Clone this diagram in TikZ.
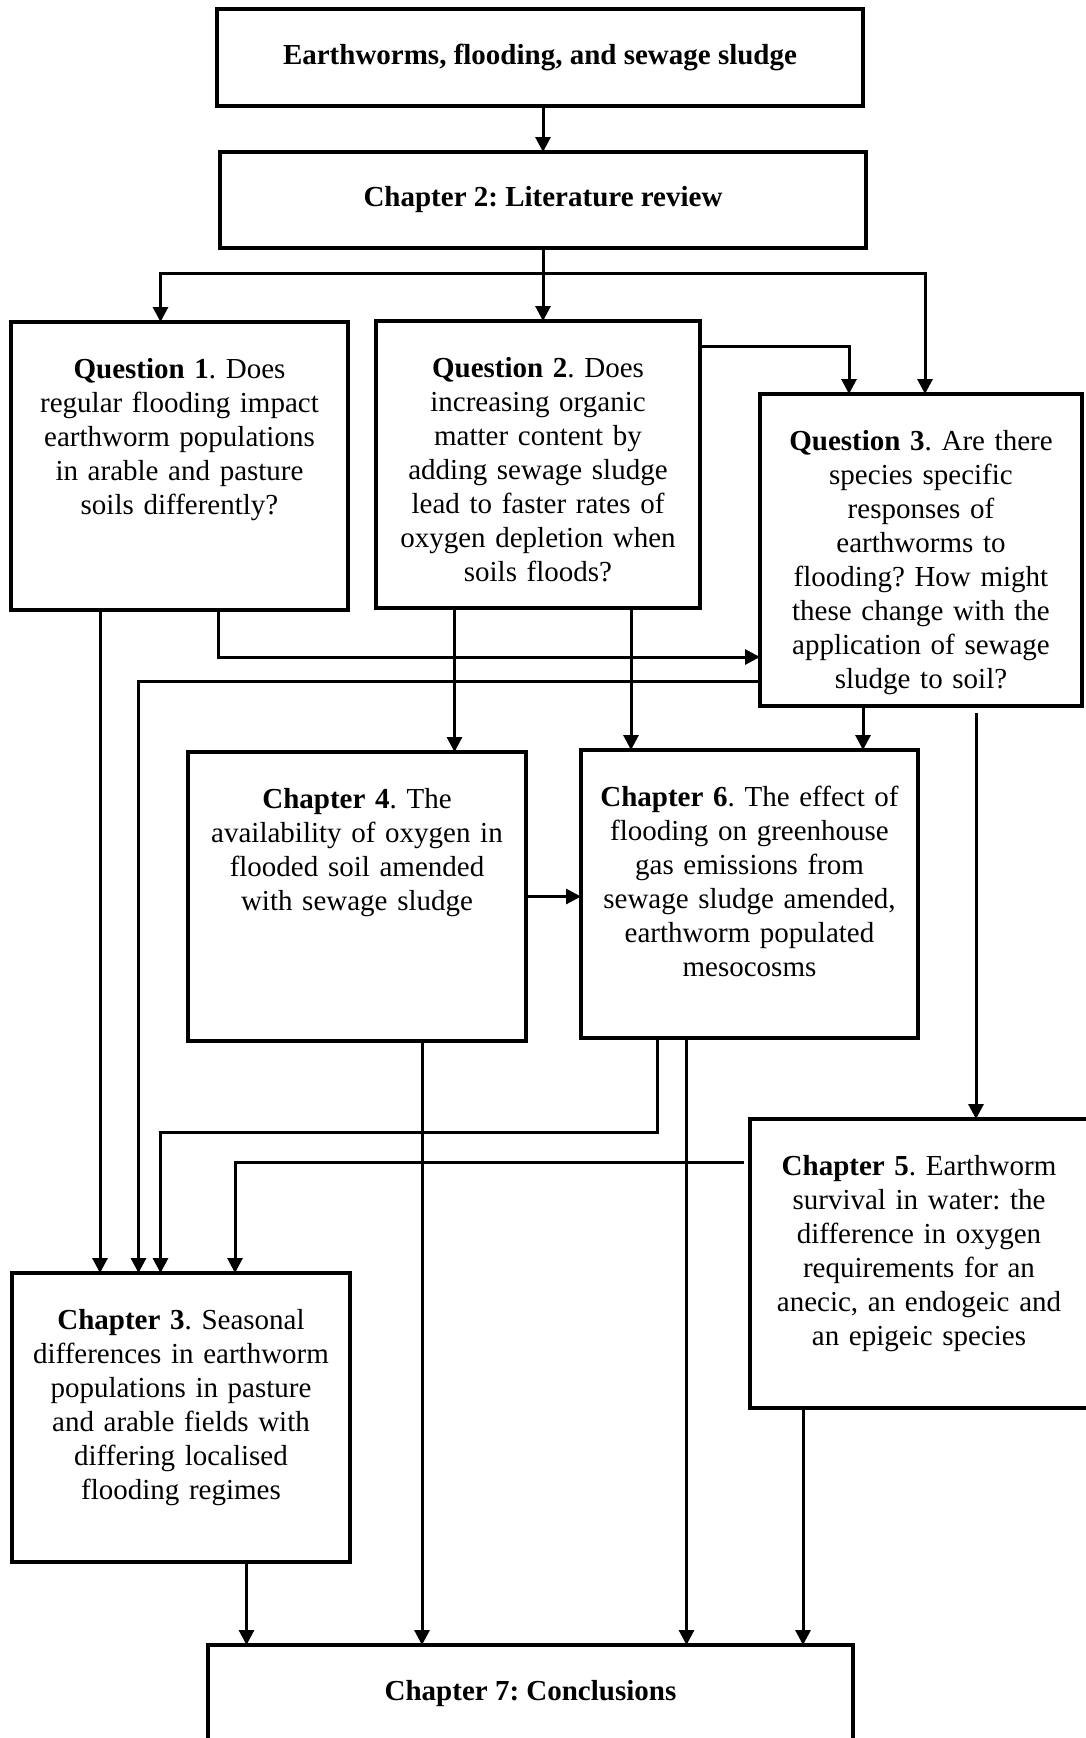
\documentclass[tikz,border=0pt]{standalone}
\usepackage{fontspec}
\setmainfont{Liberation Serif}
\usetikzlibrary{arrows.meta}

\begin{document}
\begin{tikzpicture}[x=1pt, y=1pt, font=\fontsize{29}{34}\selectfont\frenchspacing,
		chbox/.style={draw, line width=3.5pt, anchor=north west, inner sep=0pt, outer sep=0pt},
		chtext/.style={anchor=north, inner sep=0pt, align=center, text width=330pt},
		flow/.style={line width=3pt, -{Triangle[length=15pt, width=15pt]}}]
	\useasboundingbox (0,0) rectangle (1085,-1738);
	% the boxes, at their top left corners
	\node[chbox, minimum width=646pt, minimum height=97pt] (top) at (217,-9) {\textbf{Earthworms, flooding, and sewage sludge}};
	\node[chbox, minimum width=646pt, minimum height=96pt] (lit) at (220,-152) {\textbf{Chapter 2: Literature review}};
	\node[chbox, minimum width=337pt, minimum height=288pt] (q1) at (11,-322) {};
	\node[chbox, minimum width=324pt, minimum height=287pt] (q2) at (376,-321) {};
	\node[chbox, minimum width=322pt, minimum height=312pt] (q3) at (760,-394) {};
	\node[chbox, minimum width=338pt, minimum height=289pt] (ch4) at (188,-752) {};
	\node[chbox, minimum width=337pt, minimum height=288pt] (ch6) at (581,-750) {};
	\node[chbox, minimum width=338pt, minimum height=289pt] (ch5) at (750,-1119) {};
	\node[chbox, minimum width=338pt, minimum height=289pt] (ch3) at (12,-1273) {};
	\node[chbox, minimum width=645pt, minimum height=97pt] (ch7) at (208,-1645) {\textbf{Chapter 7: Conclusions}};
	% texts hang from the top edge
	\node[chtext] (q1-text) at ([yshift=-32pt]q1.north) {\strut\textbf{Question 1}. Does\\regular flooding impact\\earthworm populations\\in arable and pasture\\soils differently?};
	\node[chtext] (q2-text) at ([yshift=-32pt]q2.north) {\strut\textbf{Question 2}. Does\\increasing organic\\matter content by\\adding sewage sludge\\lead to faster rates of\\oxygen depletion when\\soils floods?};
	\node[chtext] (q3-text) at ([yshift=-32pt]q3.north) {\strut\textbf{Question 3}. Are there\\species specific\\responses of\\earthworms to\\flooding? How might\\these change with the\\application of sewage\\sludge to soil?};
	\node[chtext] (ch4-text) at ([yshift=-32pt]ch4.north) {\strut\textbf{Chapter 4}. The\\availability of oxygen in\\flooded soil amended\\with sewage sludge};
	\node[chtext] (ch6-text) at ([yshift=-32pt]ch6.north) {\strut\textbf{Chapter 6}. The effect of\\flooding on greenhouse\\gas emissions from\\sewage sludge amended,\\earthworm populated\\mesocosms};
	\node[chtext] (ch5-text) at ([yshift=-32pt]ch5.north) {\strut\textbf{Chapter 5}. Earthworm\\survival in water: the\\difference in oxygen\\requirements for an\\anecic, an endogeic and\\an epigeic species};
	\node[chtext] (ch3-text) at ([yshift=-32pt]ch3.north) {\strut\textbf{Chapter 3}. Seasonal\\differences in earthworm\\populations in pasture\\and arable fields with\\differing localised\\flooding regimes};
	% review and the three questions
	\draw[flow] (top.south -| lit.north) -- (lit.north);
	\coordinate (split) at ([yshift=-25pt]lit.south);
	\draw[flow] (lit.south) -- (lit.south |- q2.north);
	\draw[flow] (split) -| ([xshift=-19pt]q1.north);
	\draw[flow] (split) -| ([xshift=4pt]q3.north);
	\draw[flow] ([yshift=-25pt]q2.north east) -| ([xshift=-72pt]q3.north);
	% out of the questions
	\draw[flow] ([xshift=-79.5pt]q1.south) -- ([xshift=-79.5pt]q1.south |- ch3.north);
	\draw[flow] ([xshift=38.5pt]q1.south) |- ([yshift=-107pt]q3.west);
	\draw[flow] ([xshift=-83.5pt]q2.south) -- ([xshift=-83.5pt]q2.south |- ch4.north);
	\draw[flow] ([xshift=93pt]q2.south) -- ([xshift=93pt]q2.south |- ch6.north);
	\draw[flow] ([yshift=-131pt]q3.west) -| ([xshift=-42.5pt]ch3.north);
	\draw[flow] ([xshift=-58pt]q3.south) -- ([xshift=-58pt]q3.south |- ch6.north);
	\draw[flow] ([xshift=55pt, yshift=-7pt]q3.south) -- ([xshift=55pt]q3.south |- ch5.north);
	% chapters into chapters
	\draw[flow] (ch4.east) -- (ch4.east -| ch6.west);
	\draw[flow] ([xshift=-92pt]ch6.south) -- ++(0,-94) -| ([xshift=-20.5pt]ch3.north);
	\draw[flow] ([xshift=-6pt, yshift=101.5pt]ch5.west) -| ([xshift=54pt]ch3.north);
	% and into the conclusions
	\draw[flow] ([xshift=65.5pt]ch3.south) -- ([xshift=65.5pt]ch3.south |- ch7.north);
	\draw[flow] ([xshift=65pt]ch4.south) -- ([xshift=65pt]ch4.south |- ch7.north);
	\draw[flow] ([xshift=-63pt]ch6.south) -- ([xshift=-63pt]ch6.south |- ch7.north);
	\draw[flow] ([xshift=-116pt]ch5.south) -- ([xshift=-116pt]ch5.south |- ch7.north);
\end{tikzpicture}
\end{document}
